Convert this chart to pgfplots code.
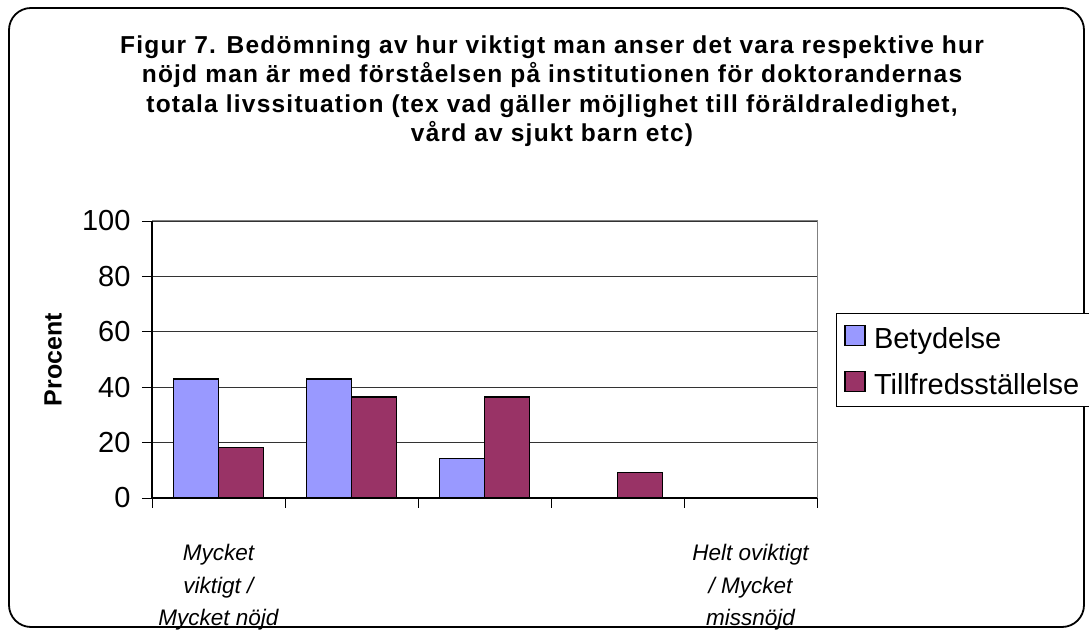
\documentclass[border=0pt]{standalone}
\usepackage{pgfplots}
\pgfplotsset{compat=1.18}
\usepackage{fontspec}
\setmainfont{Liberation Sans}
\newfontfamily\titlefont[LetterSpace=5]{Liberation Sans}
\definecolor{bet}{HTML}{9999FF}
\definecolor{till}{HTML}{993366}
\begin{document}
\begin{tikzpicture}
\path (0,0) rectangle (1089pt,631pt);
\draw[line width=1.8pt, rounded corners=22pt] (9pt,4pt) rectangle (1084pt,623pt);
\node[align=center, font=\titlefont\fontsize{24.5}{29.4}\selectfont\bfseries] at (552pt,540pt)
 {Figur 7. Bedömning av hur viktigt man anser det vara respektive hur\\
  nöjd man är med förståelsen på institutionen för doktorandernas\\
  totala livssituation (tex vad gäller möjlighet till föräldraledighet,\\
  vård av sjukt barn etc)};
\begin{axis}[
  at={(152pt,133pt)}, anchor=south west,
  width=665pt, height=277pt, scale only axis,
  xmin=0, xmax=5, ymin=0, ymax=100,
  ybar=0pt, bar width=0.34,
  ytick={0,20,...,100},
  xtick={0,...,5}, xticklabels={},
  xtick pos=bottom, ytick pos=left,
  extra x ticks={0.5,4.5},
  extra x tick labels={Mycket\\viktigt /\\Mycket nöjd, Helt oviktigt\\/ Mycket\\missnöjd},
  extra x tick style={major tick length=0pt, grid=none,
     xticklabel style={font=\fontsize{22.5}{32.5}\selectfont\itshape, align=center, yshift=-43pt}},
  tick align=outside, major tick length=10pt,
  tick style={black, line width=0.9pt},
  /pgf/number format/assume math mode=true,
  yticklabel style={font=\fontsize{29}{29}\selectfont, xshift=-8pt},
  ymajorgrids, grid style={black!80, line width=0.8pt},
  axis line style={draw=gray, line width=1pt},
  ylabel={Procent},
  ylabel style={font=\fontsize{25}{25}\selectfont\bfseries, at={(rel axis cs:0,0.5)}, anchor=south, inner sep=0pt, yshift=90pt},
  legend style={at={(rel axis cs:1.0286,0.668)}, anchor=north west, draw=black, line width=0.8pt,
     font=\fontsize{29}{29}\selectfont, row sep=11pt, inner ysep=6pt, inner xsep=8pt,
     nodes={inner sep=2pt, text height=27pt, text depth=4pt}},
  legend cell align=left,
  legend image code/.code={\draw[#1, line width=1.2pt] (0pt,-9pt) rectangle (20pt,11pt); \path[draw=none, fill=none] (0pt,0pt) -- (27pt,0pt);},
  clip=false,
]
\addplot[fill=bet, draw=black, line width=1.4pt] coordinates {(0.5,42.9) (1.5,42.9) (2.5,14.3) (3.5,0) (4.5,0)};
\addplot[fill=till, draw=black, line width=1.4pt] coordinates {(0.5,18.2) (1.5,36.4) (2.5,36.4) (3.5,9.1) (4.5,0)};
\legend{Betydelse, Tillfredsställelse}
\draw[black, line width=1.2pt] (rel axis cs:0,1) -- (rel axis cs:0,0) -- (rel axis cs:1,0);
\end{axis}
\pgfresetboundingbox
\path (0,0) rectangle (1089pt,631pt);
\end{tikzpicture}
\end{document}
